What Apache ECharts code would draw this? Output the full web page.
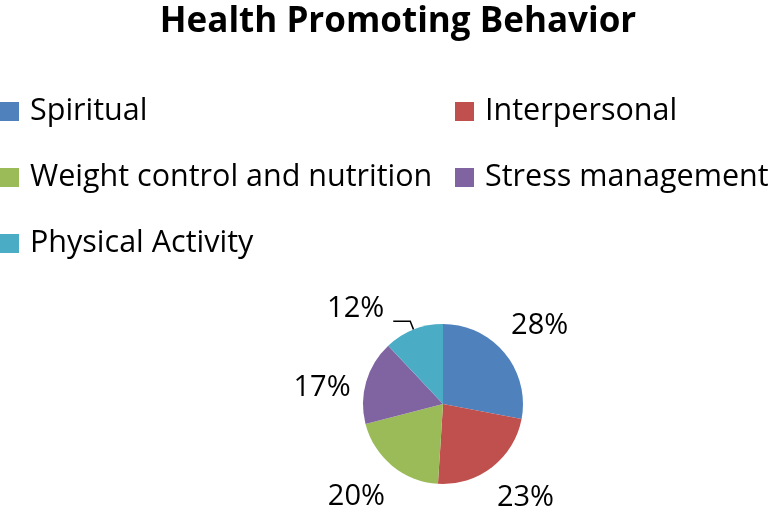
<!DOCTYPE html>
<html>
<head>
<meta charset="utf-8">
<script src="https://cdn.jsdelivr.net/npm/echarts@6/dist/echarts.min.js"></script>
<style>html,body{margin:0;padding:0;background:#fff;}#c{width:771px;height:519px;}</style>
</head>
<body>
<div id="c"></div>
<script>
const titleText = 'Health Promoting Behavior';
const categories = ['Spiritual', 'Interpersonal', 'Weight control and nutrition', 'Stress management', 'Physical Activity'];
const values = [28, 23, 20, 17, 12];
const labelTexts = ['28%', '23%', '20%', '17%', '12%'];
const leftLegend = ['Spiritual', 'Weight control and nutrition', 'Physical Activity'];
const rightLegend = ['Interpersonal', 'Stress management'];

const colors = ['#4F81BD', '#C0504D', '#9BBB59', '#8064A2', '#4BACC6'];
const labelOffsets = [[-2, 3], [4, -7], [-5, -6], [2, 19], [0, 0]];
const FONT = 'Open Sans';

const chart = echarts.init(document.getElementById('c'), null, {renderer: 'canvas'});

const mainData = categories.map((name, i) => ({
  name: name,
  value: values[i],
  label: i === 4 ? {
    show: true, position: 'outside', formatter: '{a|' + labelTexts[i] + '}\n{b|}',
    distanceToLabelLine: 9,
    rich: {
      a: {fontFamily: FONT, fontSize: 29, color: '#000', lineHeight: 30},
      b: {fontSize: 10, lineHeight: 26}
    }
  } : {show: false},
  labelLine: i === 4 ? {show: true, length: 9, length2: 17, lineStyle: {color: '#000', width: 1.5}} : {show: false}
}));

const ringData = categories.map((name, i) => ({
  name: name,
  value: values[i],
  label: i === 4 ? {show: false} : {
    show: true, formatter: labelTexts[i], offset: labelOffsets[i]
  }
}));

const legendText = {fontFamily: FONT, fontSize: 30.5, color: '#000', lineHeight: 30, padding: [0, 0, 0, 6]};

chart.setOption({
  animation: false,
  color: colors,
  title: {
    text: titleText,
    left: 393,
    top: 0,
    textAlign: 'center',
    textStyle: {fontFamily: FONT, fontWeight: 'bold', fontSize: 35, color: '#000'}
  },
  legend: [
    {
      data: leftLegend, orient: 'vertical', left: 0, top: 96, padding: 0,
      itemWidth: 19, itemHeight: 19, itemGap: 35,
      icon: 'rect', selectedMode: false,
      textStyle: legendText
    },
    {
      data: rightLegend, orient: 'vertical', left: 455, top: 96, padding: 0,
      itemWidth: 19, itemHeight: 19, itemGap: 35,
      icon: 'rect', selectedMode: false,
      textStyle: legendText
    }
  ],
  series: [
    {
      type: 'pie',
      center: [443, 404],
      radius: 80,
      startAngle: 90,
      clockwise: true,
      avoidLabelOverlap: false,
      silent: true,
      data: mainData
    },
    {
      type: 'pie',
      center: [443, 404],
      radius: [115, 135],
      startAngle: 90,
      clockwise: true,
      avoidLabelOverlap: false,
      silent: true,
      itemStyle: {color: 'rgba(0,0,0,0)'},
      label: {
        show: true, position: 'inside', rotate: 0, color: '#000',
        fontFamily: FONT, fontSize: 29
      },
      labelLine: {show: false},
      data: ringData
    }
  ]
});
</script>
</body>
</html>
